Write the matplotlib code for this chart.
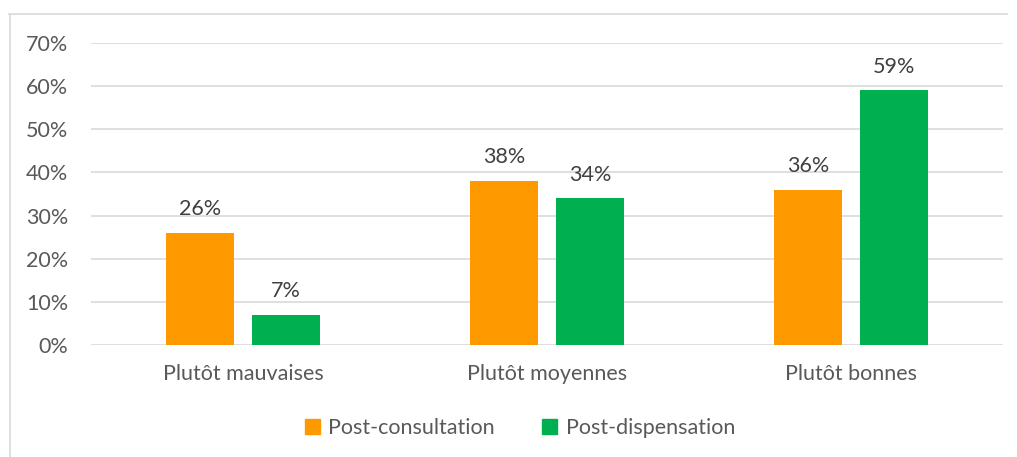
import matplotlib
matplotlib.use("Agg")
import matplotlib.pyplot as plt
from matplotlib.lines import Line2D
import numpy as np

categories = ["Plutôt mauvaises", "Plutôt moyennes", "Plutôt bonnes"]
series_names = ["Post-consultation", "Post-dispensation"]
post_consultation = [26, 38, 36]
post_dispensation = [7, 34, 59]
yticks = [0, 10, 20, 30, 40, 50, 60, 70]

colors = ["#FF9900", "#00B050"]
text_color = "#595959"
plt.rcParams['font.family'] = ['Lato', 'DejaVu Sans']
fs = 15.5

fig = plt.figure(figsize=(10.17, 4.57), dpi=100)
ax = fig.add_axes([91/1017, 1-345/457, (1003-91)/1017, (345-43)/457])

x = np.arange(len(categories))
w = 0.224
off = 0.1414
for vals, c, o, name in [(post_consultation, colors[0], -off, series_names[0]),
                         (post_dispensation, colors[1], off, series_names[1])]:
    bars = ax.bar(x + o, vals, width=w, color=c, label=name, zorder=3)
    for b, v in zip(bars, vals):
        ax.text(b.get_x() + b.get_width()/2, v + 3.2, f"{v}%", ha="center", va="bottom",
                fontsize=fs, color="#404040")

ax.set_xlim(-0.5, 2.5)
ax.set_ylim(0, 70)
ax.set_yticks(yticks)
ax.set_yticklabels([f"{t}%" for t in yticks])
ax.set_xticks(x)
ax.set_xticklabels(categories)
ax.tick_params(axis='both', length=0, labelsize=fs, colors=text_color)
ax.tick_params(axis='y', pad=16.5)
ax.tick_params(axis='x', pad=14)
ax.grid(axis='y', color="#D9D9D9", linewidth=1.2, zorder=0)
for s in ax.spines.values():
    s.set_visible(False)

handles = [plt.Rectangle((0, 0), 1, 1, color=c) for c in colors]
fig.legend(handles, series_names, loc="center", bbox_to_anchor=(520/1017, 1-428/457),
           ncol=2, frameon=False, fontsize=fs, labelcolor=text_color,
           handlelength=0.7, handleheight=0.7, handletextpad=0.4, columnspacing=2.2)

# chart border (top and left visible)
fig.add_artist(Line2D([9/1017, 1007/1017], [1-14/457, 1-14/457], color="#D9D9D9", lw=1.2,
                      transform=fig.transFigure))
fig.add_artist(Line2D([10/1017, 10/1017], [0, 1-14/457], color="#D9D9D9", lw=1.2,
                      transform=fig.transFigure))

fig.savefig("out.png", dpi=100)
